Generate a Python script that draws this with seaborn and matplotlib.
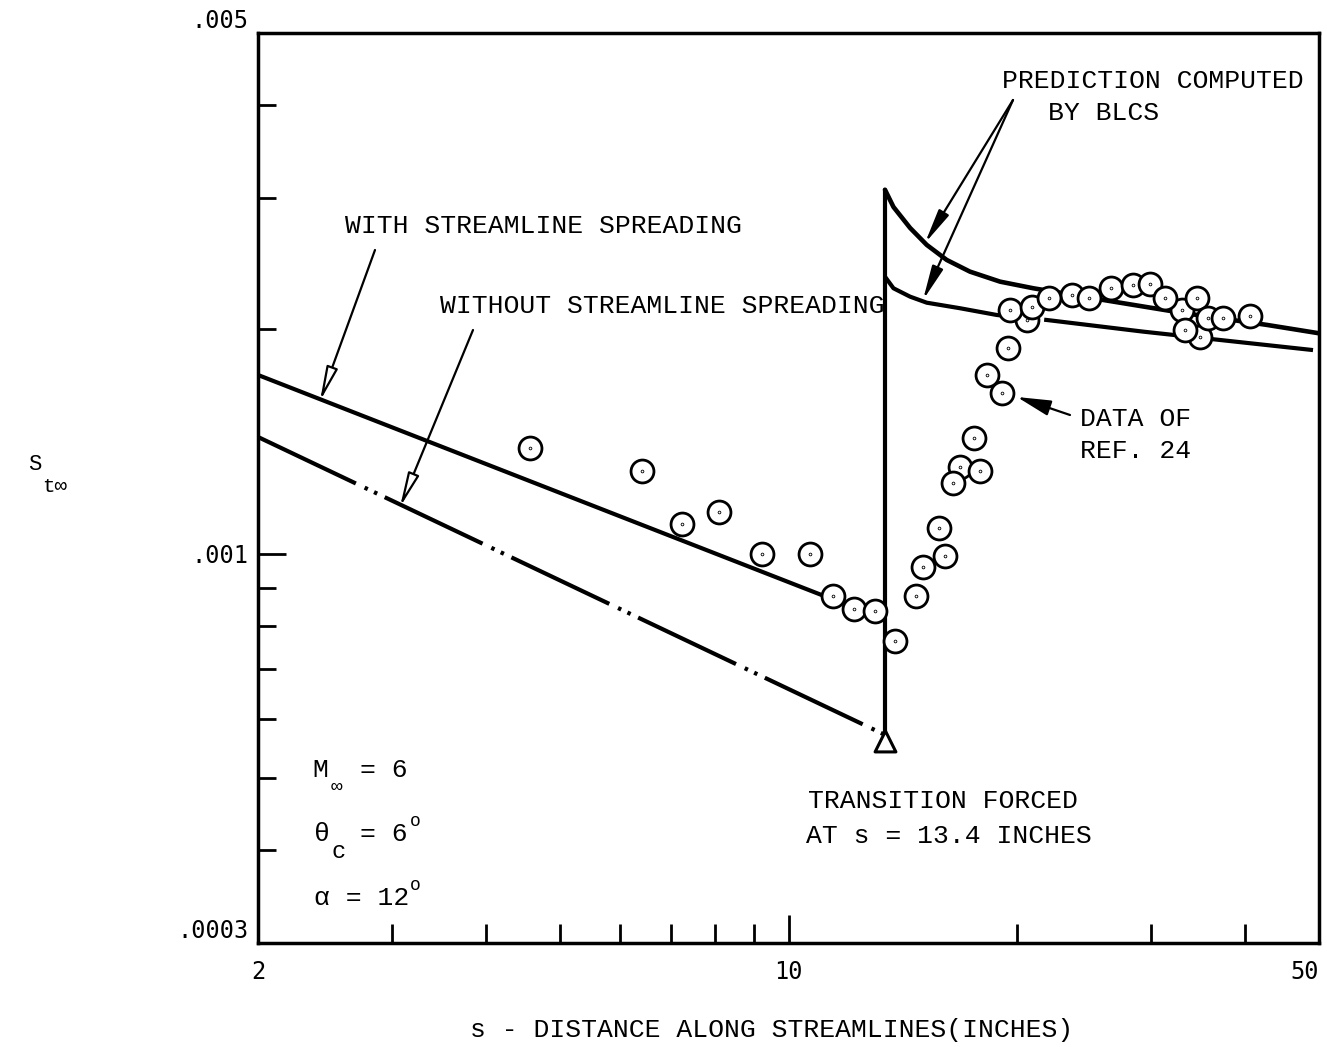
import matplotlib
matplotlib.use("Agg")
import matplotlib.pyplot as plt
from matplotlib.ticker import FixedLocator, FixedFormatter, NullFormatter
from matplotlib.path import Path
import pandas as pd
import seaborn as sns

# ---- measured heat-transfer data (Stanton number vs. distance along streamlines)
data_s = [4.56, 6.42, 7.23, 8.09, 9.22, 10.68, 11.44, 12.20, 13.01, 13.82,
          14.73, 15.06, 16.10, 15.77, 16.83, 16.49, 17.88, 17.57, 19.11, 18.28,
          19.45, 20.60, 19.58, 20.93, 23.62, 22.06, 24.89, 26.60, 28.44, 29.94,
          32.97, 31.34, 34.51, 34.86, 33.31, 35.71, 37.41, 40.56]
data_st = [0.001385, 0.001291, 0.001096, 0.001138, 0.000999, 0.000998, 0.000877, 0.000842, 0.000838, 0.000762,
           0.000877, 0.000960, 0.000992, 0.001083, 0.001308, 0.001244, 0.001291, 0.001431, 0.001641, 0.001737,
           0.001889, 0.002059, 0.002124, 0.002143, 0.002221, 0.002201, 0.002204, 0.002271, 0.002294, 0.002298,
           0.002124, 0.002206, 0.002206, 0.001956, 0.001997, 0.002072, 0.002070, 0.002085]

# ---- BLCS predictions
s_transition = 13.4
lam_with_s = [2.0, 13.4]
lam_with_st = [0.001737, 0.000815]
lam_without_s = [2.0, 13.4]
lam_without_st = [0.001434, 0.000571]

turb_with_s = [13.4, 13.75, 14.46, 15.21, 16.16, 17.34, 19.00, 21.02, 25.73, 32.80, 42.67, 50.0]
turb_with_st = [0.00308, 0.002920, 0.002737, 0.002597, 0.002479, 0.002391, 0.002318, 0.002271,
                0.002194, 0.002107, 0.002028, 0.001976]
turb_without_s = [13.4, 13.75, 14.46, 15.21, 16.83, 18.81, 21.89, 29.34, 49.10]
turb_without_st = [0.002354, 0.002271, 0.002213, 0.002172, 0.002135, 0.002091, 0.002059, 0.001986, 0.001876]

trip_st = 0.000560

# ---- axis ticks
x_major = [2, 10, 50]
x_major_labels = ["2", "10", "50"]
x_minor = [3, 4, 5, 6, 7, 8, 9, 20, 30, 40]
y_major = [0.0003, 0.001, 0.005]
y_major_labels = [".0003", ".001", ".005"]
y_minor = [0.0004, 0.0005, 0.0006, 0.0007, 0.0008, 0.0009, 0.002, 0.003, 0.004]

W, H = 1327, 1047
sns.set_theme(style="white")
plt.rcParams["font.family"] = ["Liberation Mono", "DejaVu Sans Mono"]
plt.rcParams["lines.scale_dashes"] = False
plt.rcParams["axes.edgecolor"] = "black"

fig = plt.figure(figsize=(W / 100, H / 100), dpi=100)
ax = fig.add_axes([258 / W, 1 - 943 / H, 1061 / W, 910 / H])
ax.set_xscale("log")
ax.set_yscale("log")
ax.set_xlim(2, 50)
ax.set_ylim(0.0003, 0.005)

LW = 3.0
dash_dot_dot = (0, (78, 7, 2.5, 5, 2.5, 6))

# laminar predictions
sns.lineplot(x=lam_with_s, y=lam_with_st, ax=ax, color="black", lw=LW,
             sort=False, estimator=None, zorder=2)
sns.lineplot(x=lam_without_s, y=lam_without_st, ax=ax, color="black", lw=LW,
             sort=False, estimator=None, zorder=2)
ax.lines[-1].set_linestyle(dash_dot_dot)

# forced transition jump
sns.lineplot(x=[s_transition, s_transition], y=[lam_without_st[-1], turb_with_st[0]], ax=ax,
             color="black", lw=LW, sort=False, estimator=None, zorder=2)

# turbulent predictions
sns.lineplot(x=turb_with_s, y=turb_with_st, ax=ax, color="black", lw=LW + 0.3,
             sort=False, estimator=None, zorder=2)
sns.lineplot(x=turb_without_s, y=turb_without_st, ax=ax, color="black", lw=LW,
             sort=False, estimator=None, zorder=2)
ax.lines[-1].set_linestyle((0, (95, 8, 2.5, 6, 2.5, 8)))

# measured data: open circle with a centre dot
ring = Path.make_compound_path(Path.unit_circle(), Path.circle((0, 0), 0.035))
df = pd.DataFrame({"s": data_s, "st": data_st})
sns.scatterplot(data=df, x="s", y="st", ax=ax, marker=ring, s=16.5 ** 2,
                color="white", edgecolor="black", linewidth=2.0, zorder=3)

# transition trip location
sns.scatterplot(x=[s_transition], y=[trip_st], ax=ax, marker="^", s=15 ** 2,
                color="white", edgecolor="black", linewidth=2.2, zorder=4)

# ---- axes styling
for sp in ax.spines.values():
    sp.set_linewidth(2.5)
    sp.set_color("black")
ax.xaxis.set_major_locator(FixedLocator(x_major))
ax.xaxis.set_major_formatter(FixedFormatter(x_major_labels))
ax.xaxis.set_minor_locator(FixedLocator(x_minor))
ax.xaxis.set_minor_formatter(NullFormatter())
ax.yaxis.set_major_locator(FixedLocator(y_major))
ax.yaxis.set_major_formatter(FixedFormatter(y_major_labels))
ax.yaxis.set_minor_locator(FixedLocator(y_minor))
ax.yaxis.set_minor_formatter(NullFormatter())
ax.tick_params(axis="both", which="both", direction="in", color="black",
               top=False, right=False, bottom=True, left=True, width=2)
ax.tick_params(axis="x", which="major", length=20, pad=12, labelsize=17)
ax.tick_params(axis="x", which="minor", length=14)
ax.tick_params(axis="y", which="major", length=20, pad=7, labelsize=17)
ax.tick_params(axis="y", which="minor", length=13)
for lab in ax.get_xticklabels() + ax.get_yticklabels():
    lab.set_fontfamily("DejaVu Sans Mono")
    lab.set_color("black")
ylabs = ax.get_yticklabels()
ylabs[0].set_verticalalignment("bottom")
ylabs[2].set_verticalalignment("bottom")
ax.get_xticklabels()[2].set_horizontalalignment("right")
ax.set_xlabel("")
ax.set_ylabel("")


def ftext(px, py, s, size=19, **kw):
    fig.text(px / W, 1 - py / H, s, fontsize=size, va="center", ha=kw.pop("ha", "left"),
             color="black", **kw)


# labels
ftext(345, 226, "WITH STREAMLINE SPREADING")
ftext(440, 306, "WITHOUT STREAMLINE SPREADING")
ftext(1002, 81, "PREDICTION COMPUTED")
ftext(1048, 113, "BY BLCS")
ftext(1080, 419, "DATA OF")
ftext(1080, 451, "REF. 24")
ftext(808, 801, "TRANSITION FORCED")
ftext(806, 836, "AT s = 13.4 INCHES")

# flow conditions
ftext(312, 770, "M")
ftext(331, 787, "\u221e", size=14)
ftext(360, 770, "= 6")
ftext(314, 834, "\u03b8")
ftext(332, 851, "c", size=17)
ftext(360, 834, "= 6")
ftext(410, 821, "o", size=13)
ftext(314, 898, "\u03b1 = 12")
ftext(410, 885, "o", size=13)

ftext(28, 465, "S", size=16)
ftext(42, 487, "t\u221e", size=15)
ftext(772, 1030, "s - DISTANCE ALONG STREAMLINES(INCHES)", ha="center")


def arrow(tail, tip, fc="black", hw=0.22):
    ax.annotate("", xy=(tip[0], H - tip[1]), xytext=(tail[0], H - tail[1]),
                xycoords="figure pixels", textcoords="figure pixels",
                arrowprops=dict(arrowstyle=f"-|>,head_length=1.3,head_width={hw}",
                                lw=1.6, ec="black", fc=fc, shrinkA=0, shrinkB=0,
                                mutation_scale=16))


arrow((375, 250), (320, 401), fc="white")
arrow((473, 330), (400, 507), fc="white")
arrow((1013, 100), (925, 243))
arrow((1013, 100), (923, 300))
arrow((1070, 415), (1017, 397), hw=0.3)

fig.savefig("out.png", dpi=100, facecolor="white")
